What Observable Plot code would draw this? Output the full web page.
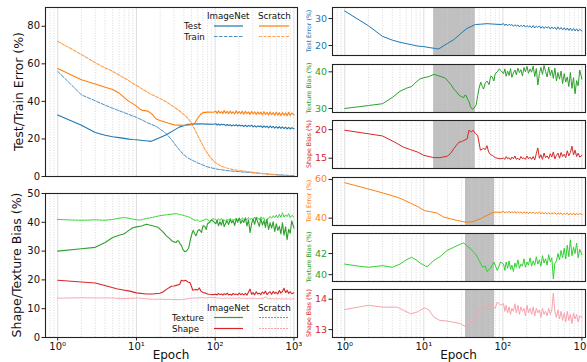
<!DOCTYPE html>
<html><head><meta charset="utf-8">
<script src="https://cdn.jsdelivr.net/npm/d3@7"></script>
<script src="https://cdn.jsdelivr.net/npm/@observablehq/plot@0.6"></script>
<style>
body{margin:0;background:#fff;}
#c{position:relative;width:587px;height:362px;overflow:hidden;font-family:"DejaVu Sans";}
#c svg{position:absolute;}
</style>
</head><body><div id="c"></div>
<script>
// ---------- data ----------
const EPOCH_TICKS = [1, 10, 100, 1000];
const EPOCH_TICK_LABELS = ["10\u2070", "10\u00b9", "10\u00b2", "10\u00b3"];
const GRID_MAJOR = [1, 10, 100, 1000];
const GRID_MINOR = [0.7,0.8,0.9,2,3,4,5,6,7,8,9,20,30,40,50,60,70,80,90,200,300,400,500,600,700,800,900];
const NOISE_EPOCHS = [102,106,110,115,120,125,130,136,142,148,155,162,169,177,185,193,202,211,221,231,242,253,265,277,290,303,317,332,347,363,380,398,416,435,455,476,498,521,545,570,597,624,653,683,715,748,783,819,857,897,938,1000];

// ImageNet test error
const inTestEarly = [[1,32.8],[2,27.3],[3,23.4],[4,22],[5,21.2],[6,20.7],[7,20.3],[8,19.9],[9,19.7],[10,19.6],[12,19.2],[14,18.9],[15,18.7],[16,19.0],[18,20.0],[20,20.8],[24,22.2],[29,24.3],[35,26.3],[45,27.8],[52,27.9],[63,28.1],[80,27.9],[95,27.8]];
const inTestNoise = [28.1,27.4,28.0,27.3,27.9,27.5,27.8,27.1,27.7,27.2, 27.6,26.9,27.5,27.0,27.6,26.8,27.4,26.9,27.3,26.6, 27.4,26.5,27.2,26.7,27.3,26.4,27.1,26.3,27.0,26.5, 27.0,26.1,26.9,26.2,26.8,25.9,26.9,26.0,26.7,25.8, 26.6,25.7,26.5,25.6,26.4,25.5,26.3,25.4,26.2,25.3, 26.0,25.4];
// ImageNet train error
const inTrain = [[1,56],[2,43.5],[3,40.3],[4,38],[5,36.3],[7,34],[10,31.5],[14,28.5],[18,26.6],[20,25.2],[24,22.8],[28,19.5],[33,15.5],[38,12.5],[44,10.1],[55,8],[65,6.6],[80,5.1],[106,3.9],[150,3.0],[280,2.1],[500,1.2],[1000,0.4]];
// Scratch test error (left panel)
const scTestEarly = [[1,57.5],[2,51.5],[3,49.3],[4,47.5],[5,46.3],[6,44.5],[7,42],[8,40],[9,38.8],[10,37.5],[11,36],[12,35.2],[14,34.8],[16,33],[17,31.5],[18,30.5],[20,29.8],[22,29.3],[25,28.5],[30,27.5],[40,27.2],[50,27.5],[55,28.5],[60,31],[65,33],[70,34],[80,34.3],[95,34.2]];
const scTestNoise = [34.8,33.6,35.0,33.8,34.6,33.5,35.1,33.7,34.7,33.4, 34.9,33.6,34.5,33.3,35.0,33.6,34.6,33.4,34.8,33.2, 34.7,33.5,34.4,33.1,34.6,33.3,34.5,33.0,34.4,33.2, 34.3,32.9,34.5,33.0,34.2,32.8,34.3,32.9,34.1,32.6, 34.2,32.7,34.0,32.5,34.1,32.6,33.9,32.4,34.2,32.5, 33.8,32.8];
// Scratch train error
const scTrain = [[1,72],[2,65],[3.5,59],[5,56],[7,52.5],[9.3,49.3],[15,44],[20,41.5],[24.5,39.5],[30,37],[35,35],[44,31.5],[50,28.5],[55,25],[65,19],[75,14],[87,10.1],[100,7.5],[117,5.7],[140,4.5],[172,3.6],[300,2.2],[458,1.3],[700,0.6],[1000,0.2]];
// Scratch test error (right panel)
const scTestREarly = [[1,58.3],[1.9,55.3],[3.1,52.9],[4.6,50.8],[5.6,49.4],[6.8,47.7],[8.25,46.1],[10.2,43.9],[12.2,43.3],[14.8,42.6],[17.9,40.5],[21.7,39.7],[26.5,38.8],[32,38.1],[37.2,37.9],[43,38.4],[52,39.7],[63,41.4],[73.5,42.8],[81,43.1],[95,43.0]];
const scTestRNoise = [43.5,42.7,43.4,42.8,43.6,42.6,43.3,42.7,43.5,42.5, 43.4,42.6,43.2,42.4,43.3,42.6,43.1,42.3,43.2,42.5, 43.1,42.3,43.0,42.4,43.2,42.2,42.9,42.3,43.0,42.1, 42.9,42.0,42.8,42.2,42.9,41.9,42.7,42.1,42.8,41.8, 42.6,41.9,42.7,41.7,42.5,41.8,42.6,41.6,42.5,41.7, 42.4,41.9];
// ImageNet texture bias
const inTexEarly = [[1,30],[2,30.8],[3,31.3],[4,33],[5,34.7],[6,35.5],[7,36],[8,37.2],[9,38.1],[10,38.4],[11.6,38.7],[13.4,39.3],[16,38.8],[18.7,38.3],[20.7,37.2],[22,36.5],[24,35.3],[26,34.5],[28,33.6],[30,33.2],[32,33.0],[33,33.6],[34.3,33.5],[36,32.4],[37.2,32.0],[39,30.5],[41,29.8],[43,30.0],[46,31.0],[48,33.5],[50,35.5],[52.5,37.2],[55,36.0],[57,35.3],[60,37.0],[63,37.5],[67,36.5],[70,38.8],[73.5,38.6],[77,37.5],[80,39.5],[85,40.0],[90,40.8],[95,40.3]];
const inTexNoise = [39.5,40.8,38.8,40.2,39.0,40.9,38.5,39.7,40.5,39.2, 41.0,39.8,40.6,38.9,41.2,40.0,41.5,39.6,40.8,39.9, 41.6,38.7,40.9,36.4,39.5,41.2,39.3,41.7,40.1,38.6, 41.3,39.0,40.5,38.2,41.0,37.5,39.8,38.0,40.2,36.8, 39.5,37.2,38.6,36.0,39.8,35.5,38.4,34.0,37.6,36.2, 40.5,38.0];
// ImageNet shape bias
const inShpEarly = [[1,19.9],[3,18.9],[4.3,17.8],[5.6,16.9],[6.8,16.5],[8.25,16.1],[10,15.5],[13.4,15.1],[16,15.1],[19.8,15.35],[21.7,15.8],[24,16.7],[27.8,17.8],[30,17.9],[32,18.1],[35.4,18.4],[37.2,19.9],[39.8,19.6],[42,19.9],[45,19.3],[48,19.0],[52,16.4],[55,16.6],[57,16.7],[60,16.5],[63,17.2],[66,16.1],[70,15.6],[73.5,15.5],[80,15.1],[85,15.0],[93.6,14.9]];
const inShpNoise = [15.0,14.8,15.3,14.9,15.1,14.7,15.2,14.9,15.4,14.8, 15.0,14.7,15.3,14.9,15.1,14.8,15.4,14.9,15.2,14.8, 15.3,14.7,15.8,16.8,15.0,15.6,14.8,15.9,15.1,15.4, 14.9,15.8,15.2,16.1,14.9,15.5,15.9,15.0,16.0,15.3, 15.7,15.1,16.3,15.4,16.0,17.1,15.6,16.4,15.3,15.9, 15.2,15.5];
// Scratch texture bias
const scTexEarly = [[1,41.0],[1.5,40.8],[2,40.7],[3,40.85],[4,40.7],[5,41.0],[6,41.4],[7,41.65],[8,41.4],[9,41.1],[10,40.9],[11,40.75],[12,41.0],[13.4,41.35],[16,41.7],[19.8,42.3],[24,42.6],[29.2,42.9],[32,43.0],[35.4,42.7],[38.5,42.5],[43,42.1],[46,41.9],[50,41.35],[55.5,40.7],[60,40.8],[63,40.3],[70,40.6],[77,41.2],[85,40.4],[93.6,41.2]];
const scTexNoise = [41.0,40.4,41.2,40.6,41.3,40.5,40.9,40.3,41.1,40.7, 41.4,40.6,41.0,40.8,41.5,40.7,41.2,40.9,41.6,40.8, 41.3,40.9,41.7,41.0,41.4,40.8,41.8,41.1,41.5,40.9, 41.9,41.2,41.6,39.6,41.1,41.3,42.0,41.4,42.3,41.6, 42.5,41.5,42.8,41.7,43.3,41.8,42.6,42.0,43.0,41.6, 42.4,41.9];
// Scratch shape bias
const scShpEarly = [[1,13.66],[2,13.8],[3,13.74],[4.6,13.74],[6.8,13.52],[8.25,13.58],[10.2,13.72],[11.6,13.65],[13.4,13.41],[16,13.3],[19.8,13.28],[24,13.24],[29,13.2],[33.5,13.1],[37,13.15],[43,13.36],[50,13.66],[57,13.74],[62,13.7],[67,13.86],[73.5,13.75],[80,13.7],[85,13.91],[93.6,13.8]];
const scShpNoise = [13.85,13.6,13.8,13.55,13.75,13.5,13.7,13.6,13.85,13.55, 13.8,13.5,13.75,13.6,13.7,13.45,13.8,13.55,13.7,13.5, 13.75,13.45,13.7,13.55,13.65,13.4,13.7,13.5,13.6,13.45, 13.7,13.5,13.65,14.2,13.6,13.4,13.65,13.35,13.6,13.3, 13.55,13.25,13.6,13.3,13.5,13.2,13.55,13.35,13.5,13.25, 13.45,13.4];

// grey highlighted epoch windows
const SHADE_IMAGENET = [13.3, 44.8];
const SHADE_SCRATCH = [33.7, 78.5];

// ---------- build ----------
const XDOMAIN = [0.7, 1110];
function series(early, noise) {
  const pts = early.map(([e, v]) => ({e, v}));
  if (noise) NOISE_EPOCHS.forEach((e, i) => pts.push({e, v: noise[i]}));
  return pts;
}
const S = {
  inTest: series(inTestEarly, inTestNoise),
  inTrain: series(inTrain),
  scTest: series(scTestEarly, scTestNoise),
  scTrain: series(scTrain),
  scTestR: series(scTestREarly, scTestRNoise),
  inTex: series(inTexEarly, inTexNoise),
  inShp: series(inShpEarly, inShpNoise),
  scTex: series(scTexEarly, scTexNoise),
  scShp: series(scShpEarly, scShpNoise)
};
const C = {blue:"#1f77b4", blueL:"#4a90c6", orange:"#ff7f0e", orangeL:"#ffa04f", green:"#2ca02c", lime:"#2fd12f", red:"#d62728", pink:"#f7a3ac"};

const root = document.getElementById("c");
function panel(o) {
  const marks = [];
  if (o.shade) marks.push(Plot.rect([o.shade], {x1: d => d[0], x2: d => d[1], y1: () => o.yd[0], y2: () => o.yd[1], fill: "#c0c0c0"}));
  marks.push(Plot.ruleX(GRID_MINOR, {stroke: "#cfcfcf", strokeWidth: 0.8, strokeDasharray: "1,1.6"}));
  marks.push(Plot.ruleX(GRID_MAJOR, {stroke: "#dedede", strokeWidth: 1}));
  for (const l of o.lines) marks.push(Plot.line(l.data, {x: "e", y: "v", stroke: l.color, strokeWidth: l.width || 1, strokeDasharray: l.dash, clip: true}));
  marks.push(Plot.axisY(o.yticks, {tickSize: 3.5, tickPadding: 2, fontSize: o.tickFont, fill: o.tickColor || "#111", stroke: "#222", label: null}));
  if (o.xlabels) marks.push(Plot.axisX(EPOCH_TICKS, {tickSize: 3.5, tickPadding: 2, fontSize: 10, fill: "#111", stroke: "#222", label: null, tickFormat: d => EPOCH_TICK_LABELS[EPOCH_TICKS.indexOf(d)]}));
  marks.push(Plot.frame({stroke: "#222", strokeWidth: 1.1}));
  const svg = Plot.plot({
    width: o.width, height: o.height,
    marginTop: o.mt, marginBottom: o.mb, marginLeft: o.ml, marginRight: o.mr,
    x: o.xlabels ? {type: "log", domain: XDOMAIN} : {type: "log", domain: XDOMAIN, axis: null},
    y: {domain: o.yd},
    style: {background: "transparent", fontFamily: "DejaVu Sans", overflow: "visible", color: "#111"},
    marks
  });
  svg.style.left = o.left + "px";
  svg.style.top = o.top + "px";
  root.appendChild(svg);
}

// left panels
panel({left: 0, top: 0, width: 300, height: 182, mt: 7, mb: 6, ml: 45, mr: 3, yd: [0, 90], yticks: [0,20,40,60,80], tickFont: 10,
  lines: [
    {data: S.inTrain, color: C.blueL, dash: "3.5,1.5", width: 1},
    {data: S.scTrain, color: C.orangeL, dash: "3,1.5", width: 1.1},
    {data: S.inTest, color: C.blue, width: 1.1},
    {data: S.scTest, color: C.orange, width: 1.1}
  ]});
panel({left: 0, top: 185, width: 305, height: 177, mt: 8, mb: 25, ml: 45, mr: 8, yd: [0, 50], yticks: [0,10,20,30,40,50], tickFont: 10, xlabels: true,
  lines: [
    {data: S.scTex, color: C.lime, dash: "2,1", width: 1},
    {data: S.scShp, color: C.pink, dash: "2,1", width: 1},
    {data: S.inTex, color: C.green, width: 1.1},
    {data: S.inShp, color: C.red, width: 1.1}
  ]});

// right panels
const R = {left: 300, width: 287, ml: 32, mr: 2, tickFont: 9.5};
panel({...R, top: 0, height: 58, mt: 7, mb: 3, yd: [16.3, 34.1], yticks: [20, 30], tickColor: C.blue, shade: SHADE_IMAGENET, lines: [{data: S.inTest, color: C.blue}]});
panel({...R, top: 60, height: 55, mt: 4, mb: 3, yd: [28.9, 42.0], yticks: [30, 40], tickColor: C.green, shade: SHADE_IMAGENET, lines: [{data: S.inTex, color: C.green}]});
panel({...R, top: 116, height: 55, mt: 4, mb: 3, yd: [13.2, 21.6], yticks: [15, 20], tickColor: C.red, shade: SHADE_IMAGENET, lines: [{data: S.inShp, color: C.red}]});
panel({...R, top: 173, height: 55, mt: 4, mb: 3, yd: [36.2, 61], yticks: [40, 60], tickColor: C.orange, shade: SHADE_SCRATCH, lines: [{data: S.scTestR, color: C.orange}]});
panel({...R, top: 229, height: 55, mt: 4, mb: 3, yd: [39.35, 43.9], yticks: [40, 42], tickColor: C.green, shade: SHADE_SCRATCH, lines: [{data: S.scTex, color: C.lime}]});
panel({...R, top: 285, height: 77, mt: 4, mb: 25, yd: [12.74, 14.32], yticks: [13, 14], tickColor: C.red, shade: SHADE_SCRATCH, xlabels: true, lines: [{data: S.scShp, color: C.pink}]});

// ---------- overlay texts & legends ----------
const ov = d3.select(root).append("svg").attr("width", 587).attr("height", 362)
  .style("left", "0px").style("top", "0px").style("pointer-events", "none")
  .style("font-family", "DejaVu Sans");
function vlabel(x, y, text, size, color) {
  ov.append("text").attr("transform", `translate(${x},${y}) rotate(-90)`).attr("text-anchor", "middle")
    .attr("dominant-baseline", "central").attr("font-size", size).attr("fill", color).text(text);
}
vlabel(18.5, 91.5, "Test/Train Error (%)", 12.5, "#111");
vlabel(16.7, 265, "Shape/Texture Bias (%)", 12.5, "#111");
vlabel(308.8, 31, "Test Error (%)", 6.3, C.blue);
vlabel(308.8, 88, "Texture Bias (%)", 6.3, C.green);
vlabel(308.8, 144, "Shape Bias (%)", 6.3, C.red);
vlabel(308.8, 201, "Test Error (%)", 6.3, C.orange);
vlabel(308.8, 257, "Texture Bias (%)", 6.3, C.green);
vlabel(308.8, 313, "Shape Bias (%)", 6.3, C.red);
ov.append("text").attr("x", 171).attr("y", 358.8).attr("text-anchor", "middle").attr("font-size", 12).attr("fill", "#111").text("Epoch");
ov.append("text").attr("x", 458.5).attr("y", 358.8).attr("text-anchor", "middle").attr("font-size", 12).attr("fill", "#111").text("Epoch");

function legend(y0, rows) {
  const fs = 8.7;
  ov.append("text").attr("x", 207).attr("y", y0).attr("dominant-baseline", "central").attr("font-size", fs).attr("fill", "#111").text("ImageNet");
  ov.append("text").attr("x", 258).attr("y", y0).attr("dominant-baseline", "central").attr("font-size", fs).attr("fill", "#111").text("Scratch");
  rows.forEach(r => {
    ov.append("text").attr("x", r.tx).attr("y", r.y).attr("dominant-baseline", "central").attr("font-size", fs).attr("fill", "#111").text(r.label);
    ov.append("line").attr("x1", 214).attr("x2", 243).attr("y1", r.y).attr("y2", r.y).attr("stroke", r.c1).attr("stroke-width", 1.2).attr("stroke-dasharray", r.d1 || null);
    ov.append("line").attr("x1", 259).attr("x2", 289).attr("y1", r.y).attr("y2", r.y).attr("stroke", r.c2).attr("stroke-width", 1.2).attr("stroke-dasharray", r.d2 || null);
  });
}
legend(15.5, [
  {label: "Test", tx: 184, y: 26, c1: C.blue, c2: C.orange},
  {label: "Train", tx: 184, y: 36.5, c1: C.blueL, c2: C.orangeL, d1: "3.5,1.5", d2: "3,1.5"}
]);
legend(307.7, [
  {label: "Texture", tx: 172, y: 317.5, c1: C.green, c2: C.lime, d2: "2,1"},
  {label: "Shape", tx: 172, y: 328.5, c1: C.red, c2: C.pink, d2: "2,1"}
]);
</script>
</body></html>
